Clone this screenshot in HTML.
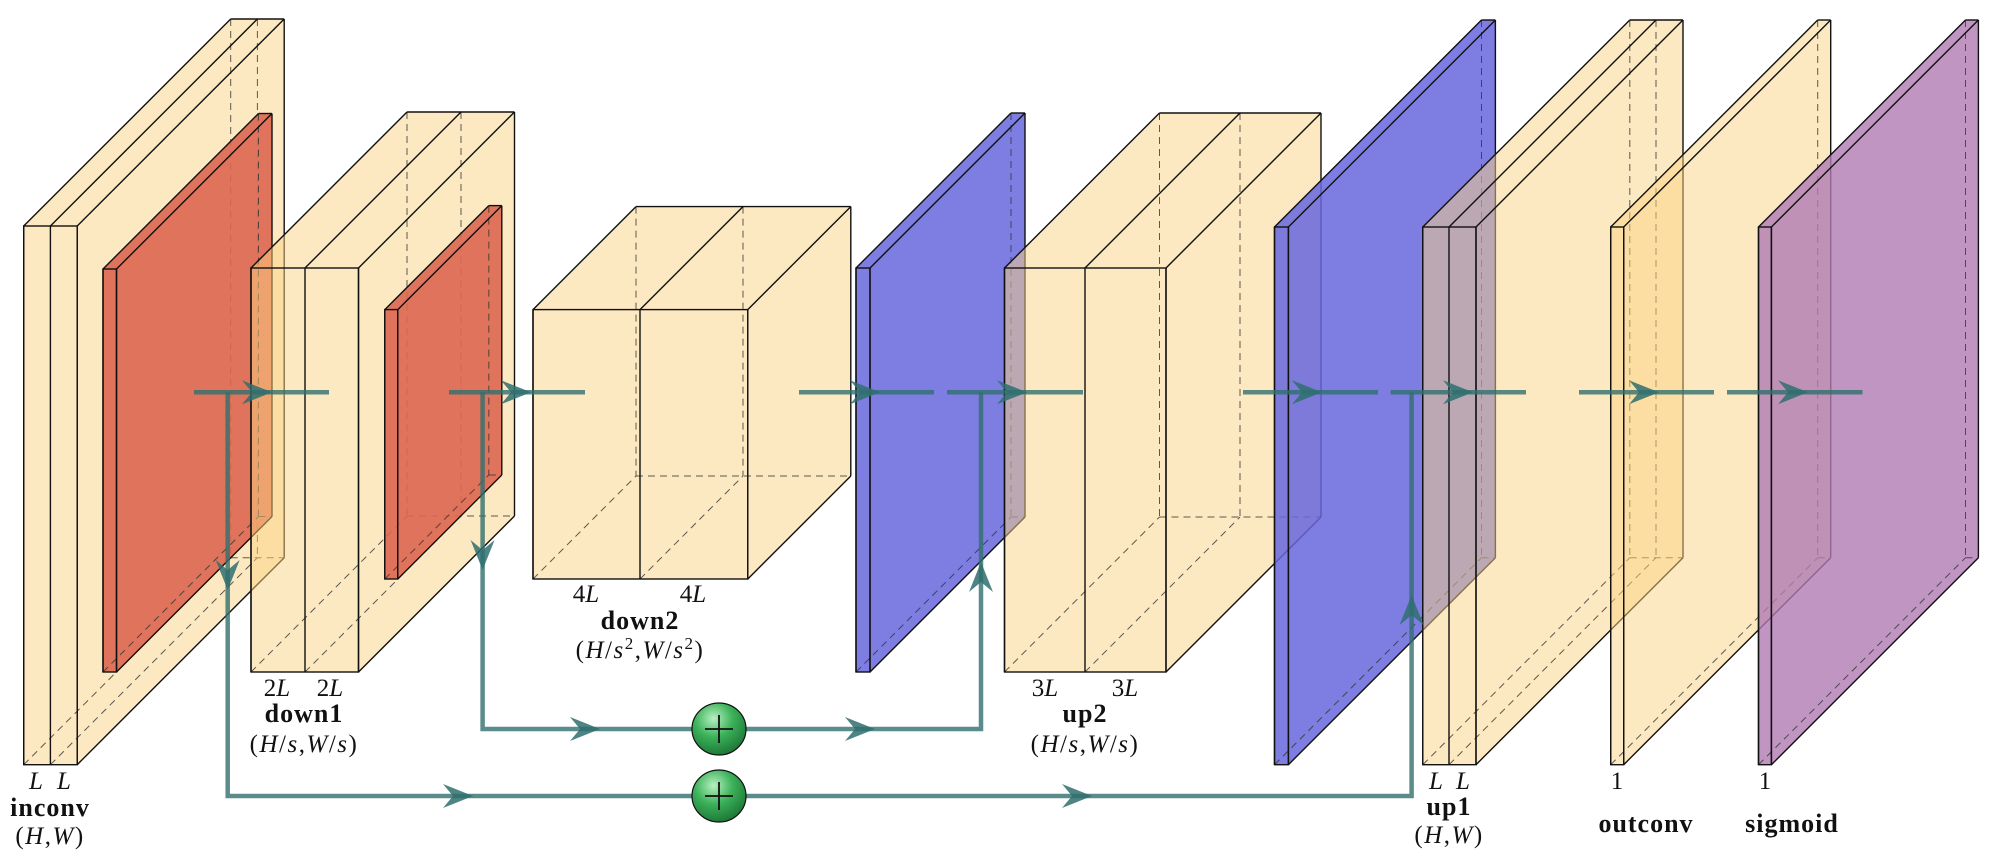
<!DOCTYPE html>
<html><head><meta charset="utf-8">
<style>
html,body{margin:0;padding:0;background:#fff;}
svg{display:block;}
text{font-family:"Liberation Serif",serif;font-size:25px;fill:#111;}
.b{font-weight:bold;font-size:26px;letter-spacing:1px;}
.i{font-style:italic;}
.p{letter-spacing:1.5px;}
</style></head>
<body>
<svg id="fig" width="2002" height="864" viewBox="0 0 2002 864" xmlns="http://www.w3.org/2000/svg">
<g id="blocks"></g>
<g id="arrows"></g>
<g id="labels">
  <text x="36" y="789" text-anchor="middle" class="i">L</text>
  <text x="64" y="789" text-anchor="middle" class="i">L</text>
  <text x="50" y="816" text-anchor="middle" class="b">inconv</text>
  <text x="50" y="844" text-anchor="middle" class="p">(<tspan class="i">H</tspan>,<tspan class="i">W</tspan>)</text>

  <text x="277" y="696" text-anchor="middle">2<tspan class="i">L</tspan></text>
  <text x="330" y="696" text-anchor="middle">2<tspan class="i">L</tspan></text>
  <text x="304" y="722" text-anchor="middle" class="b">down1</text>
  <text x="304" y="752" text-anchor="middle" class="p">(<tspan class="i">H</tspan>/<tspan class="i">s</tspan>,<tspan class="i">W</tspan>/<tspan class="i">s</tspan>)</text>

  <text x="586" y="602" text-anchor="middle">4<tspan class="i">L</tspan></text>
  <text x="693" y="602" text-anchor="middle">4<tspan class="i">L</tspan></text>
  <text x="640" y="629" text-anchor="middle" class="b">down2</text>
  <text x="640" y="658" text-anchor="middle" class="p">(<tspan class="i">H</tspan>/<tspan class="i">s</tspan><tspan dy="-9" font-size="17">2</tspan><tspan dy="9">,</tspan><tspan class="i">W</tspan>/<tspan class="i">s</tspan><tspan dy="-9" font-size="17">2</tspan><tspan dy="9">)</tspan></text>

  <text x="1045" y="696" text-anchor="middle">3<tspan class="i">L</tspan></text>
  <text x="1125" y="696" text-anchor="middle">3<tspan class="i">L</tspan></text>
  <text x="1085" y="722" text-anchor="middle" class="b">up2</text>
  <text x="1085" y="752" text-anchor="middle" class="p">(<tspan class="i">H</tspan>/<tspan class="i">s</tspan>,<tspan class="i">W</tspan>/<tspan class="i">s</tspan>)</text>

  <text x="1436" y="789" text-anchor="middle" class="i">L</text>
  <text x="1463" y="789" text-anchor="middle" class="i">L</text>
  <text x="1449" y="815" text-anchor="middle" class="b">up1</text>
  <text x="1449" y="843" text-anchor="middle" class="p">(<tspan class="i">H</tspan>,<tspan class="i">W</tspan>)</text>

  <text x="1617" y="789" text-anchor="middle">1</text>
  <text x="1646" y="832" text-anchor="middle" class="b">outconv</text>
  <text x="1765" y="789" text-anchor="middle">1</text>
  <text x="1792" y="832" text-anchor="middle" class="b">sigmoid</text>
</g>
</svg>
<script>
const blockNames=["inconv","inconv-pool","down1","down1-pool","down2","upsample2","up2","upsample1","up1","outconv","sigmoid"];
const blockSlices=[[23.7,50.4,77.2],[103,116.5],[251,305,358.5],[384.8,397.8],[533,640,747.8],[856,870],[1004.5,1085,1166],[1274.5,1288.4],[1422.8,1449,1476],[1610.7,1623.7],[1758.5,1771.4]];
const blockTop=[226,269,268,309.6,309.6,268,268,227,227,227,227];
const blockBottom=[764.7,672,672,579,579,672,672,764.7,764.7,764.7,764.7];
const blockDepth=[207,155.5,156,104,103,155,155,207,207,207,207];
const blockKind=["y","r","y","r","y","b","y","b","y","y","p"];
const NS="http://www.w3.org/2000/svg";
const fills={y:["#fbd384",0.5],r:["#dd6650",0.9],b:["#6666dd",0.85],p:["#b07ab3",0.8]};
function mk(tag,attrs,parent){const e=document.createElementNS(NS,tag);for(const k in attrs)e.setAttribute(k,attrs[k]);parent.appendChild(e);return e;}
const gB=document.getElementById("blocks");
blockNames.forEach((nm,i)=>{
  const xs=blockSlices[i],t=blockTop[i],b=blockBottom[i],d=blockDepth[i];
  const x0=xs[0],xn=xs[xs.length-1];
  const g=mk("g",{},gB);
  
  
  const f=fills[blockKind[i]];
  mk("polygon",{points:`${x0},${b} ${x0},${t} ${x0+d},${t-d} ${xn+d},${t-d} ${xn+d},${b-d} ${xn},${b}`,fill:f[0],"fill-opacity":f[1],stroke:"none"},g);
  const dash={stroke:"#333","stroke-width":1,"stroke-dasharray":"7,5",fill:"none","stroke-opacity":0.8};
  xs.forEach((x,j)=>{
    if(j<xs.length-1){
      mk("line",Object.assign({x1:x+d,y1:t-d,x2:x+d,y2:b-d},dash),g);
      mk("line",Object.assign({x1:x,y1:b,x2:x+d,y2:b-d},dash),g);
    }
  });
  mk("line",Object.assign({x1:x0+d,y1:b-d,x2:xn+d,y2:b-d},dash),g);
  const sl={stroke:"#111","stroke-width":1.4,fill:"none"};
  mk("rect",Object.assign({x:x0,y:t,width:xn-x0,height:b-t},sl),g);
  xs.forEach(x=>{
    mk("line",Object.assign({x1:x,y1:t,x2:x,y2:b},sl),g);
    mk("line",Object.assign({x1:x,y1:t,x2:x+d,y2:t-d},sl),g);
  });
  mk("line",Object.assign({x1:x0+d,y1:t-d,x2:xn+d,y2:t-d},sl),g);
  mk("line",Object.assign({x1:xn+d,y1:t-d,x2:xn+d,y2:b-d},sl),g);
  mk("line",Object.assign({x1:xn,y1:b,x2:xn+d,y2:b-d},sl),g);
});
// arrows
const mainY=392.3;
const segStart=[194,449,799,947,1243,1390.6,1579,1727];
const segEnd=[329,585,934,1083,1378,1526,1714,1862.5];
const segTip=[272,531,880,1027,1322,1473,1659,1808];
const skip1=[[227.7,mainY],[227.7,796],[1411.6,796],[1411.6,mainY]];
const skip1Heads=[[227.7,590,"down"],[473,796,"right"],[1092,796,"right"],[1411.6,595,"up"]];
const skip2=[[482.6,mainY],[482.6,729],[981,729],[981,mainY]];
const skip2Heads=[[482.6,570,"down"],[600,729,"right"],[875,729,"right"],[981,562,"up"]];
const sumNodes=[[719,729],[719,796]];
const gA=document.getElementById("arrows");
const TEAL="#2f6f6e";
function head(x,y,dir,name){
  const rot={right:0,down:90,up:-90,left:180}[dir];
  const p=mk("path",{d:"M0,0 L-30,-12 L-20,0 L-30,12 Z",fill:TEAL,"fill-opacity":0.85,transform:`translate(${x},${y}) rotate(${rot})`},gA);
  
  
}
function poly(pts,name){
  const l=mk("polyline",{points:pts.map(p=>p.join(",")).join(" "),fill:"none",stroke:TEAL,"stroke-opacity":0.8,"stroke-width":4.5},gA);
  
  
}
poly(skip1,"skip-connection-1");
skip1Heads.forEach((h,k)=>head(h[0],h[1],h[2],"skip1-arrowhead"));
poly(skip2,"skip-connection-2");
skip2Heads.forEach((h,k)=>head(h[0],h[1],h[2],"skip2-arrowhead"));
segStart.forEach((s,k)=>{
  poly([[s,mainY],[segEnd[k],mainY]],"main-flow-segment");
  head(segTip[k],mainY,"right","main-flow-arrowhead");
});
const defs=mk("defs",{},document.getElementById("fig"));
const rg=mk("radialGradient",{id:"gr",cx:"0.4",cy:"0.3",r:"0.7"},defs);
mk("stop",{offset:"0","stop-color":"#b8f0c0"},rg);
mk("stop",{offset:"0.5","stop-color":"#3cb25a"},rg);
mk("stop",{offset:"1","stop-color":"#1e7a38"},rg);
sumNodes.forEach(c=>{
  const g=mk("g",{},gA);
  
  
  mk("ellipse",{cx:c[0],cy:c[1],rx:27,ry:26,fill:"url(#gr)",stroke:"#111","stroke-width":1.2},g);
  mk("line",{x1:c[0]-14,y1:c[1],x2:c[0]+14,y2:c[1],stroke:"#111","stroke-width":1.8},g);
  mk("line",{x1:c[0],y1:c[1]-14,x2:c[0],y2:c[1]+14,stroke:"#111","stroke-width":1.8},g);
});
</script>
</body></html>
